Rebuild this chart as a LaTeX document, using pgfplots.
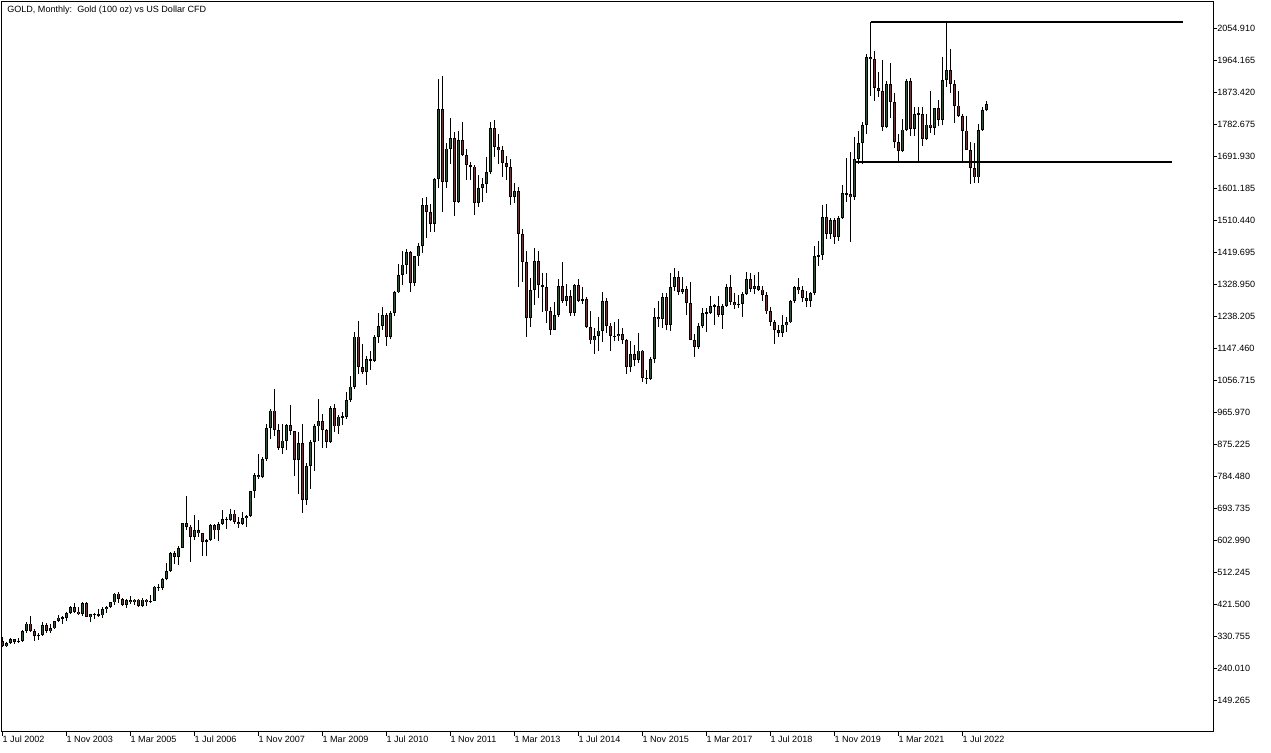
\documentclass[border=0pt]{standalone}
\usepackage{pgfplots}
\pgfplotsset{compat=1.18}
\usepackage{pgfplotstable}
\usepackage{fontspec}
\setmainfont{Liberation Sans}
\definecolor{bull}{RGB}{35,95,45}
\definecolor{bear}{RGB}{140,40,50}

\pgfplotstableread{
i o h l c
0 318 330 302 304
1 304 316 302 312
2 312 326 310 323
3 323 325 311 317
4 317 326 314 318
5 318 349 316 347
6 347 372 342 368
7 368 389 344 347
8 347 353 319 334
9 334 341 322 336
10 336 372 334 364
11 364 371 342 346
12 346 366 341 354
13 354 376 352 375
14 375 391 372 385
15 385 390 367 384
16 384 400 376 398
17 398 417 396 416
18 416 426 399 402
19 402 414 393 396
20 396 430 390 427
21 427 428 387 387
22 387 396 373 394
23 394 399 382 395
24 395 409 387 391
25 391 415 385 408
26 408 419 398 416
27 416 430 412 428
28 428 456 422 453
29 453 457 427 438
30 438 440 417 422
31 422 438 411 435
32 435 447 424 429
33 429 438 420 436
34 436 437 414 417
35 417 441 414 436
36 436 438 418 429
37 429 448 427 433
38 433 474 431 473
39 473 479 460 470
40 470 497 462 495
41 495 539 491 517
42 517 570 515 569
43 569 575 538 556
44 556 587 535 583
45 583 654 582 654
46 654 730 633 643
47 643 648 543 614
48 614 677 606 633
49 633 663 613 624
50 624 626 560 599
51 599 607 560 604
52 604 650 602 648
53 648 649 609 632
54 632 657 603 650
55 650 690 647 665
56 665 670 636 663
57 663 692 660 680
58 680 690 651 656
59 656 670 640 650
60 650 684 648 666
61 666 675 643 672
62 672 745 670 743
63 743 795 723 789
64 789 848 777 783
65 783 840 780 834
66 834 934 830 923
67 923 976 890 972
68 972 1033 900 916
69 916 933 860 865
70 865 935 850 887
71 887 934 860 930
72 930 988 904 913
73 913 915 786 833
74 833 912 735 880
75 880 935 681 718
76 718 823 705 815
77 815 888 750 882
78 882 935 802 927
79 927 1006 887 942
80 942 961 865 916
81 916 920 865 883
82 883 984 880 979
83 979 990 911 927
84 927 960 905 955
85 955 967 932 955
86 955 1025 948 1001
87 1001 1070 995 1040
88 1040 1195 1034 1182
89 1182 1227 1075 1096
90 1096 1162 1075 1081
91 1081 1128 1045 1118
92 1118 1140 1087 1113
93 1113 1185 1110 1180
94 1180 1249 1164 1212
95 1212 1265 1200 1244
96 1244 1248 1155 1181
97 1181 1253 1175 1248
98 1248 1311 1241 1307
99 1307 1388 1305 1357
100 1357 1424 1329 1386
101 1386 1431 1360 1421
102 1421 1424 1309 1333
103 1333 1411 1326 1409
104 1409 1447 1381 1439
105 1439 1576 1419 1556
106 1556 1577 1462 1536
107 1536 1557 1478 1500
108 1500 1632 1478 1628
109 1628 1913 1603 1826
110 1826 1921 1535 1620
111 1620 1732 1603 1715
112 1715 1803 1672 1746
113 1746 1763 1523 1564
114 1564 1764 1560 1738
115 1738 1791 1695 1697
116 1697 1714 1627 1668
117 1668 1676 1627 1664
118 1664 1668 1527 1560
119 1560 1640 1550 1604
120 1604 1632 1564 1614
121 1614 1692 1590 1648
122 1648 1790 1644 1772
123 1772 1796 1692 1719
124 1719 1755 1672 1711
125 1711 1723 1635 1675
126 1675 1694 1626 1663
127 1663 1684 1555 1578
128 1578 1617 1562 1595
129 1595 1605 1321 1472
130 1472 1487 1338 1393
131 1393 1424 1180 1234
132 1234 1347 1208 1313
133 1313 1434 1271 1396
134 1396 1424 1292 1327
135 1327 1361 1251 1323
136 1323 1361 1221 1253
137 1253 1267 1187 1201
138 1201 1280 1200 1244
139 1244 1345 1238 1326
140 1326 1392 1277 1284
141 1284 1331 1268 1296
142 1296 1315 1240 1250
143 1250 1330 1240 1327
144 1327 1345 1280 1282
145 1282 1322 1273 1287
146 1287 1295 1206 1208
147 1208 1255 1161 1171
148 1171 1207 1131 1183
149 1183 1238 1142 1199
150 1199 1307 1167 1283
151 1283 1290 1191 1213
152 1213 1220 1142 1183
153 1183 1224 1170 1183
154 1183 1232 1170 1190
155 1190 1205 1162 1172
156 1172 1175 1077 1095
157 1095 1170 1080 1132
158 1132 1157 1098 1115
159 1115 1191 1106 1142
160 1142 1145 1052 1065
161 1065 1088 1046 1061
162 1061 1124 1060 1118
163 1118 1263 1107 1238
164 1238 1283 1208 1232
165 1232 1304 1207 1293
166 1293 1306 1200 1215
167 1215 1362 1199 1322
168 1322 1375 1310 1351
169 1351 1367 1301 1309
170 1309 1352 1303 1316
171 1316 1326 1242 1277
172 1277 1337 1171 1173
173 1173 1190 1123 1152
174 1152 1220 1146 1211
175 1211 1264 1207 1249
176 1249 1264 1194 1249
177 1249 1296 1245 1268
178 1268 1275 1214 1269
179 1269 1296 1236 1242
180 1242 1274 1204 1269
181 1269 1331 1267 1322
182 1322 1357 1271 1280
183 1280 1306 1260 1271
184 1271 1299 1264 1275
185 1275 1307 1236 1303
186 1303 1366 1300 1345
187 1345 1361 1307 1318
188 1318 1356 1303 1325
189 1325 1366 1310 1315
190 1315 1326 1282 1299
191 1299 1309 1245 1253
192 1253 1266 1211 1224
193 1224 1228 1160 1201
194 1201 1214 1180 1192
195 1192 1243 1182 1215
196 1215 1237 1196 1222
197 1222 1285 1220 1282
198 1282 1326 1276 1321
199 1321 1347 1303 1313
200 1313 1324 1281 1292
201 1292 1310 1266 1284
202 1284 1308 1267 1305
203 1305 1439 1301 1409
204 1409 1452 1382 1413
205 1413 1555 1400 1520
206 1520 1557 1459 1472
207 1472 1518 1458 1513
208 1513 1518 1445 1464
209 1464 1525 1454 1517
210 1517 1611 1515 1589
211 1589 1689 1563 1585
212 1585 1704 1451 1577
213 1577 1748 1568 1686
214 1686 1765 1670 1730
215 1730 1789 1671 1781
216 1781 1984 1757 1975
217 1975 2075 1863 1968
218 1968 1992 1849 1886
219 1886 1933 1860 1879
220 1879 1966 1765 1776
221 1776 1906 1773 1898
222 1898 1959 1802 1848
223 1848 1872 1717 1734
224 1734 1755 1677 1708
225 1708 1798 1704 1769
226 1769 1913 1766 1907
227 1907 1916 1750 1770
228 1770 1833 1750 1814
229 1814 1834 1677 1813
230 1813 1834 1721 1743
231 1743 1814 1740 1783
232 1783 1877 1759 1774
233 1774 1831 1753 1829
234 1829 1853 1780 1796
235 1796 1974 1781 1909
236 1909 2070 1890 1937
237 1937 1998 1872 1897
238 1897 1910 1787 1837
239 1837 1879 1805 1807
240 1807 1814 1681 1766
241 1766 1808 1710 1711
242 1711 1735 1615 1660
243 1660 1730 1617 1633
244 1633 1786 1616 1768
245 1768 1833 1765 1824
246 1824 1850 1822 1840
}\gold

\pgfplotsset{candle/.style={only marks, mark=*, mark size=0pt,
  mark options={draw=none, fill=none}, forget plot,
  error bars/.cd, y dir=both, y explicit, error mark=none}}

\begin{document}
\begin{tikzpicture}
\begin{axis}[
  scale only axis, width=908.25pt, height=547.5pt,
  xmin=-0.1, xmax=302.7, ymin=60.5, ymax=2130.6,
  axis line style={line width=0.75pt},
  tick align=outside, major tick length=3pt,
  tick style={black, line width=0.75pt},
  xtick pos=left, ytick pos=right, yticklabel pos=right,
  xtick={0,16,32,48,64,80,96,112,128,144,160,176,192,208,224,240},
  xticklabels={1 Jul 2002,1 Nov 2003,1 Mar 2005,1 Jul 2006,1 Nov 2007,1 Mar 2009,1 Jul 2010,1 Nov 2011,1 Mar 2013,1 Jul 2014,1 Nov 2015,1 Mar 2017,1 Jul 2018,1 Nov 2019,1 Mar 2021,1 Jul 2022},
  ytick={149.265,240.010,330.755,421.500,512.245,602.990,693.735,784.480,875.225,965.970,1056.715,1147.460,1238.205,1328.950,1419.695,1510.440,1601.185,1691.930,1782.675,1873.420,1964.165,2054.910},
  yticklabels={149.265,240.010,330.755,421.500,512.245,602.990,693.735,784.480,875.225,965.970,1056.715,1147.460,1238.205,1328.950,1419.695,1510.440,1601.185,1691.930,1782.675,1873.420,1964.165,2054.910},
  tick label style={font=\fontsize{6.8}{8}\selectfont},
  xticklabel style={anchor=north west, inner sep=0pt},
  yticklabel style={anchor=west, inner sep=0pt},
  clip=true,
]
% wicks
\addplot[candle, error bar style={black, line width=0.75pt}]
  table[x=i, y expr={(\thisrow{h}+\thisrow{l})/2}, y error expr={(\thisrow{h}-\thisrow{l})/2}] {\gold};
% body outlines
\addplot[candle, error bar style={black, line width=2.4pt}]
  table[x=i, y expr={(\thisrow{o}+\thisrow{c})/2}, y error expr={max(abs(\thisrow{c}-\thisrow{o})/2,1.5)}] {\gold};
% bull fill
\addplot[candle, error bar style={bull, line width=1.0pt}]
  table[x=i, y expr={(\thisrow{o}+\thisrow{c})/2}, y error expr={(\thisrow{c}>=\thisrow{o})*max(abs(\thisrow{c}-\thisrow{o})/2-2.5,0)}] {\gold};
% bear fill
\addplot[candle, error bar style={bear, line width=1.0pt}]
  table[x=i, y expr={(\thisrow{o}+\thisrow{c})/2}, y error expr={(\thisrow{c}<\thisrow{o})*max(abs(\thisrow{c}-\thisrow{o})/2-2.5,0)}] {\gold};
% horizontal levels
\addplot[black, line width=1.1pt, forget plot] coordinates {(217.1,2074.5) (295.2,2074.5)};
\addplot[black, line width=1.1pt, forget plot] coordinates {(213.2,1677.5) (292.4,1677.5)};
\node[anchor=base west, inner sep=0pt, font=\fontsize{6.8}{8}\selectfont, xshift=3.75pt, yshift=-8.25pt] at (rel axis cs:0,1) {GOLD, Monthly:\ \ Gold (100 oz) vs US Dollar CFD};
\end{axis}
\path[use as bounding box] (-1.5pt,-15.75pt) rectangle (951.75pt,549pt);
\end{tikzpicture}
\end{document}
